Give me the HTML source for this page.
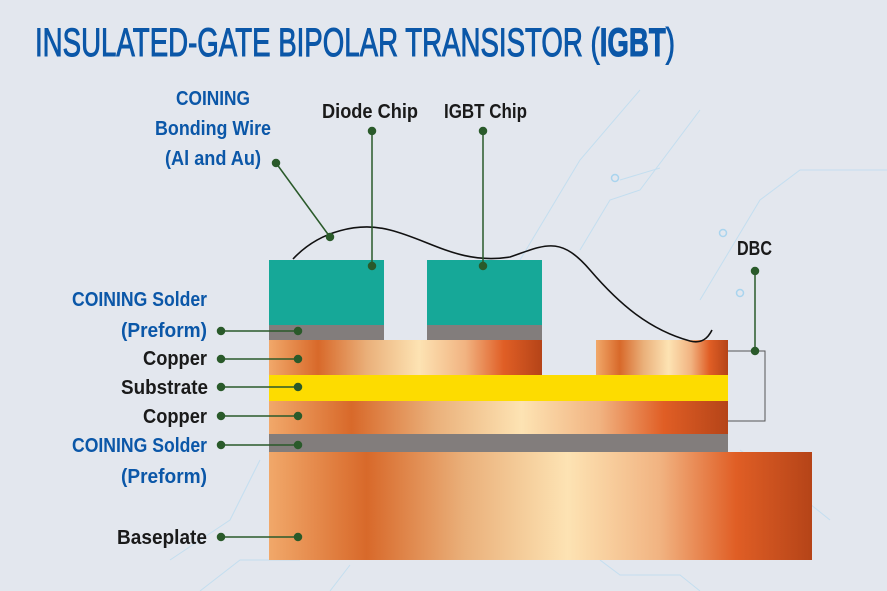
<!DOCTYPE html>
<html><head><meta charset="utf-8"><style>
html,body{margin:0;padding:0;background:#e3e7ee;}
svg{display:block}
</style></head><body>
<svg width="887" height="591" viewBox="0 0 887 591" xmlns="http://www.w3.org/2000/svg">
<defs>
<linearGradient id="cu" x1="0" x2="1" y1="0" y2="0">
<stop offset="0" stop-color="#f1a86a"/>
<stop offset="0.18" stop-color="#d8692a"/>
<stop offset="0.36" stop-color="#eab07a"/>
<stop offset="0.55" stop-color="#fde3b3"/>
<stop offset="0.72" stop-color="#f1b381"/>
<stop offset="0.86" stop-color="#e05e25"/>
<stop offset="1" stop-color="#b54418"/>
</linearGradient>
</defs>
<rect width="887" height="591" fill="#e3e7ee"/>
<g stroke="#bcdcf0" stroke-width="1" fill="none" opacity="0.8">
<path d="M520 260 L580 160 L640 90"/>
<path d="M580 250 L610 200 L640 190 L700 110"/>
<path d="M620 180 L660 168"/>
<path d="M700 300 L760 200 L800 170 L887 170"/>
<path d="M170 560 L230 520 L260 460"/>
<path d="M200 591 L240 560 L300 560"/>
<path d="M330 591 L350 565"/>
<path d="M600 560 L620 575 L680 575 L700 591"/>
<path d="M740 450 L780 480 L830 520"/>
</g>
<g stroke="#a9d4ee" stroke-width="1.5" fill="none">
<circle cx="615" cy="178" r="3.5"/><circle cx="723" cy="233" r="3.5"/><circle cx="740" cy="293" r="3.5"/>
</g>
<text x="35" y="56" font-family="Liberation Sans, sans-serif" font-size="40" fill="#0b57a8" stroke="#0b57a8" stroke-width="1" textLength="640" lengthAdjust="spacingAndGlyphs">INSULATED-GATE BIPOLAR TRANSISTOR (<tspan font-weight="bold">IGBT</tspan>)</text>
<rect x="269" y="452" width="543" height="108" fill="url(#cu)"/>
<rect x="269" y="434" width="459" height="18" fill="#827d7c"/>
<rect x="269" y="401" width="459" height="33" fill="url(#cu)"/>
<rect x="269" y="375" width="459" height="26" fill="#fddc00"/>
<rect x="269" y="340" width="273" height="35" fill="url(#cu)"/>
<rect x="596" y="340" width="132" height="35" fill="url(#cu)"/>
<rect x="269" y="325" width="115" height="15" fill="#827d7c"/>
<rect x="427" y="325" width="115" height="15" fill="#827d7c"/>
<rect x="269" y="260" width="115" height="65" fill="#16a898"/>
<rect x="427" y="260" width="115" height="65" fill="#16a898"/>
<path d="M728 351 H765 V421 H728" fill="none" stroke="#555" stroke-width="1"/>
<path d="M293 259 C320 230 360 222 390 230 C430 240 460 265 510 257 C545 245 560 235 590 270 C620 305 650 330 690 341 C702 344 708 338 712 330" fill="none" stroke="#111" stroke-width="1.6"/>
<g stroke="#2a5a2a" stroke-width="1.5" fill="#2a5a2a">
<line x1="276" y1="163" x2="330" y2="237"/><circle cx="276" cy="163" r="3.5"/><circle cx="330" cy="237" r="3.5"/>
<line x1="372" y1="131" x2="372" y2="266"/><circle cx="372" cy="131" r="3.5"/><circle cx="372" cy="266" r="3.5"/>
<line x1="483" y1="131" x2="483" y2="266"/><circle cx="483" cy="131" r="3.5"/><circle cx="483" cy="266" r="3.5"/>
<line x1="755" y1="271" x2="755" y2="351"/><circle cx="755" cy="271" r="3.5"/><circle cx="755" cy="351" r="3.5"/>
<line x1="221" y1="331" x2="298" y2="331"/><circle cx="221" cy="331" r="3.5"/><circle cx="298" cy="331" r="3.5"/>
<line x1="221" y1="359" x2="298" y2="359"/><circle cx="221" cy="359" r="3.5"/><circle cx="298" cy="359" r="3.5"/>
<line x1="221" y1="387" x2="298" y2="387"/><circle cx="221" cy="387" r="3.5"/><circle cx="298" cy="387" r="3.5"/>
<line x1="221" y1="416" x2="298" y2="416"/><circle cx="221" cy="416" r="3.5"/><circle cx="298" cy="416" r="3.5"/>
<line x1="221" y1="445" x2="298" y2="445"/><circle cx="221" cy="445" r="3.5"/><circle cx="298" cy="445" r="3.5"/>
<line x1="221" y1="537" x2="298" y2="537"/><circle cx="221" cy="537" r="3.5"/><circle cx="298" cy="537" r="3.5"/>
</g>
<g font-family="Liberation Sans, sans-serif" font-size="20" font-weight="bold">
<g fill="#0b57a8" text-anchor="middle">
<text x="213" y="105" textLength="74" lengthAdjust="spacingAndGlyphs">COINING</text>
<text x="213" y="135" textLength="116" lengthAdjust="spacingAndGlyphs">Bonding Wire</text>
<text x="213" y="165" textLength="96" lengthAdjust="spacingAndGlyphs">(Al and Au)</text>
</g>
<g fill="#0b57a8" text-anchor="end">
<text x="207" y="306" textLength="135" lengthAdjust="spacingAndGlyphs">COINING Solder</text>
<text x="207" y="337" textLength="86" lengthAdjust="spacingAndGlyphs">(Preform)</text>
<text x="207" y="452" textLength="135" lengthAdjust="spacingAndGlyphs">COINING Solder</text>
<text x="207" y="483" textLength="86" lengthAdjust="spacingAndGlyphs">(Preform)</text>
</g>
<g fill="#1a1a1a" text-anchor="end">
<text x="207" y="365" textLength="64" lengthAdjust="spacingAndGlyphs">Copper</text>
<text x="208" y="394" textLength="87" lengthAdjust="spacingAndGlyphs">Substrate</text>
<text x="207" y="423" textLength="64" lengthAdjust="spacingAndGlyphs">Copper</text>
<text x="207" y="544" textLength="90" lengthAdjust="spacingAndGlyphs">Baseplate</text>
</g>
<g fill="#1a1a1a">
<text x="322" y="118" textLength="96" lengthAdjust="spacingAndGlyphs">Diode Chip</text>
<text x="444" y="118" textLength="83" lengthAdjust="spacingAndGlyphs">IGBT Chip</text>
<text x="737" y="255" textLength="35" lengthAdjust="spacingAndGlyphs">DBC</text>
</g>
</g>
</svg>
</body></html>
